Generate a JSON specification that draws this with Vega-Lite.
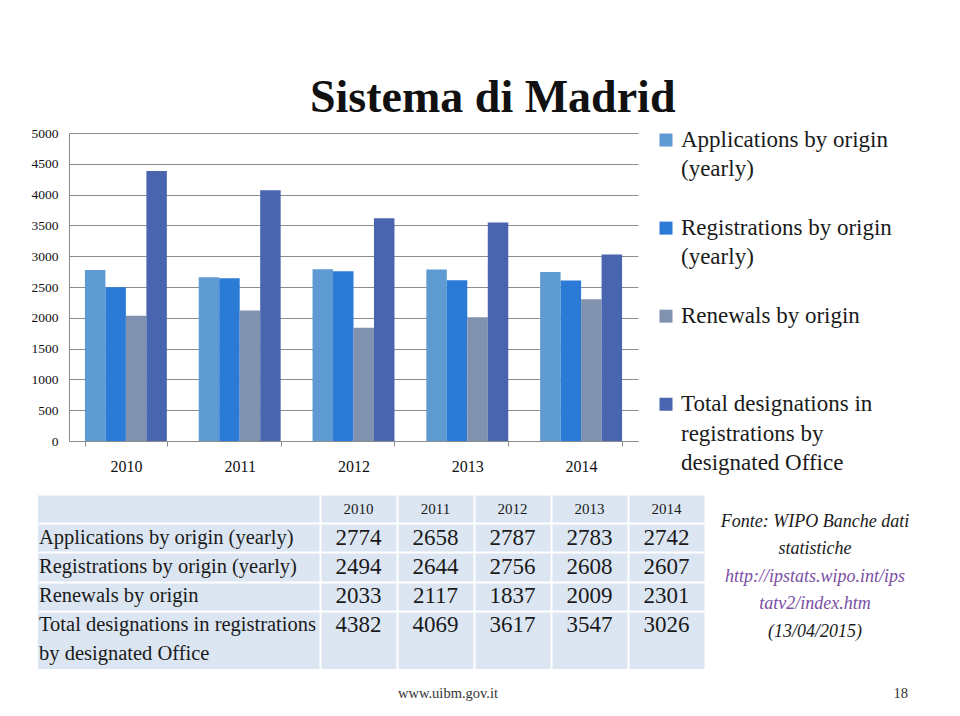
{
  "$schema": "https://vega.github.io/schema/vega-lite/v6.json",
  "background": "white",
  "padding": {"left": 31, "top": 75, "right": 0, "bottom": 0},
  "title": {"text": "Sistema di Madrid", "anchor": "start", "dx": 279, "offset": 4, "fontSize": 46, "font": "Liberation Serif", "fontWeight": "bold", "color": "#111111"},
  "config": {
    "view": {"stroke": null},
    "font": "Liberation Serif",
    "axis": {"labelFont": "Liberation Serif", "titleFont": "Liberation Serif"},
    "text": {"font": "Liberation Serif"}
  },
  "datasets": {
    "bars": [
      {"year": "2010", "series": "Applications by origin (yearly)", "value": 2774},
      {"year": "2010", "series": "Registrations by origin (yearly)", "value": 2494},
      {"year": "2010", "series": "Renewals by origin", "value": 2033},
      {"year": "2010", "series": "Total designations in registrations by designated Office", "value": 4382},
      {"year": "2011", "series": "Applications by origin (yearly)", "value": 2658},
      {"year": "2011", "series": "Registrations by origin (yearly)", "value": 2644},
      {"year": "2011", "series": "Renewals by origin", "value": 2117},
      {"year": "2011", "series": "Total designations in registrations by designated Office", "value": 4069},
      {"year": "2012", "series": "Applications by origin (yearly)", "value": 2787},
      {"year": "2012", "series": "Registrations by origin (yearly)", "value": 2756},
      {"year": "2012", "series": "Renewals by origin", "value": 1837},
      {"year": "2012", "series": "Total designations in registrations by designated Office", "value": 3617},
      {"year": "2013", "series": "Applications by origin (yearly)", "value": 2783},
      {"year": "2013", "series": "Registrations by origin (yearly)", "value": 2608},
      {"year": "2013", "series": "Renewals by origin", "value": 2009},
      {"year": "2013", "series": "Total designations in registrations by designated Office", "value": 3547},
      {"year": "2014", "series": "Applications by origin (yearly)", "value": 2742},
      {"year": "2014", "series": "Registrations by origin (yearly)", "value": 2607},
      {"year": "2014", "series": "Renewals by origin", "value": 2301},
      {"year": "2014", "series": "Total designations in registrations by designated Office", "value": 3026}
    ],
    "years": [{"year": "2010"}, {"year": "2011"}, {"year": "2012"}, {"year": "2013"}, {"year": "2014"}],
    "legend": [
      {"series": "Applications by origin (yearly)", "key": "A1", "first": true, "text": "Applications by origin"},
      {"series": "Applications by origin (yearly)", "key": "A2", "first": false, "text": "(yearly)"},
      {"series": "Registrations by origin (yearly)", "key": "R1", "first": true, "text": "Registrations by origin"},
      {"series": "Registrations by origin (yearly)", "key": "R2", "first": false, "text": "(yearly)"},
      {"series": "Renewals by origin", "key": "N1", "first": true, "text": "Renewals by origin"},
      {"series": "Total designations in registrations by designated Office", "key": "T1", "first": true, "text": "Total designations in"},
      {"series": "Total designations in registrations by designated Office", "key": "T2", "first": false, "text": "registrations by"},
      {"series": "Total designations in registrations by designated Office", "key": "T3", "first": false, "text": "designated Office"}
    ],
    "labels": [
      {"col": "label", "row": "Applications by origin (yearly)", "text": "Applications by origin (yearly)"},
      {"col": "label", "row": "Registrations by origin (yearly)", "text": "Registrations by origin (yearly)"},
      {"col": "label", "row": "Renewals by origin", "text": "Renewals by origin"},
      {"col": "label", "row": "Total designations in registrations by designated Office", "text": "Total designations in registrations"},
      {"col": "label", "row": "T2", "text": "by designated Office"}
    ],
    "source": [
      {"line": 1, "kind": "text", "text": "Fonte: WIPO Banche dati"},
      {"line": 2, "kind": "text", "text": "statistiche"},
      {"line": 3, "kind": "link", "text": "http://ipstats.wipo.int/ips"},
      {"line": 4, "kind": "link", "text": "tatv2/index.htm"},
      {"line": 5, "kind": "text", "text": "(13/04/2015)"}
    ]
  },
  "resolve": {"scale": {"color": "independent", "x": "independent", "y": "independent"}},
  "spacing": 19,
  "vconcat": [
    {
      "spacing": 21,
      "resolve": {"scale": {"color": "independent", "x": "independent", "y": "independent"}},
      "hconcat": [
        {
          "width": 600,
          "height": 308,
          "data": {"name": "bars"},
          "mark": {"type": "bar"},
          "encoding": {
            "x": {
              "field": "year", "type": "nominal",
              "scale": {"range": [31, 600], "paddingInner": 0.28, "paddingOuter": 0.14},
              "axis": {"title": null, "labelAngle": 0, "labelFontSize": 16, "labelColor": "#111111", "tickBand": "extent", "tickSize": 5, "tickColor": "#8c8c8c", "domainColor": "#8c8c8c", "labelPadding": 12, "grid": false}
            },
            "xOffset": {
              "field": "series", "type": "nominal",
              "scale": {"domain": ["Applications by origin (yearly)", "Registrations by origin (yearly)", "Renewals by origin", "Total designations in registrations by designated Office"], "paddingInner": 0, "paddingOuter": 0}
            },
            "y": {
              "field": "value", "type": "quantitative",
              "scale": {"domain": [0, 5000]},
              "axis": {"title": null, "offset": -31, "values": [0, 500, 1000, 1500, 2000, 2500, 3000, 3500, 4000, 4500, 5000], "format": "d", "labelFontSize": 13.5, "labelColor": "#111111", "labelPadding": 11, "ticks": false, "domain": true, "domainColor": "#8c8c8c", "gridColor": "#8c8c8c", "gridOpacity": 1, "gridWidth": 1}
            },
            "color": {
              "field": "series", "type": "nominal",
              "scale": {"domain": ["Applications by origin (yearly)", "Registrations by origin (yearly)", "Renewals by origin", "Total designations in registrations by designated Office"], "range": ["#5f9bd3", "#2b7bd6", "#8092ae", "#4a65b0"]},
              "legend": null
            }
          }
        },
        {
          "width": 14,
          "height": 337,
          "data": {"name": "legend"},
          "encoding": {
            "y": {"field": "key", "type": "nominal", "scale": {"type": "point", "domain": ["A1", "A2", "A3", "R1", "R2", "R3", "N1", "N2", "N3", "T1", "T2", "T3"], "padding": 0.24}, "axis": null}
          },
          "layer": [
            {
              "transform": [{"filter": "datum.first"}],
              "mark": {"type": "square", "size": 169, "opacity": 1},
              "encoding": {
                "color": {
                  "field": "series", "type": "nominal",
                  "scale": {"domain": ["Applications by origin (yearly)", "Registrations by origin (yearly)", "Renewals by origin", "Total designations in registrations by designated Office"], "range": ["#5f9bd3", "#2b7bd6", "#8092ae", "#4a65b0"]},
                  "legend": null
                }
              }
            },
            {
              "mark": {"type": "text", "align": "left", "baseline": "middle", "dx": 15, "fontSize": 23, "color": "#1a1a1a"},
              "encoding": {
                "text": {"field": "text"}
              }
            }
          ]
        }
      ]
    },
    {
      "spacing": 0,
      "resolve": {"scale": {"color": "independent", "x": "independent", "y": "independent"}},
      "hconcat": [
        {
          "width": 282,
          "height": 175,
          "view": {"fill": "#dce6f2", "stroke": null},
          "data": {"name": "labels"},
          "mark": {"type": "text", "align": "left", "baseline": "middle", "dx": 1, "fontSize": 20.5, "color": "#1a1a1a"},
          "encoding": {
            "x": {"field": "col", "type": "nominal", "scale": {"type": "point", "domain": ["label"], "padding": 0, "align": 0}, "axis": null},
            "y": {
              "field": "row", "type": "nominal",
              "scale": {"domain": ["hdr", "Applications by origin (yearly)", "Registrations by origin (yearly)", "Renewals by origin", "Total designations in registrations by designated Office", "T2"], "paddingInner": 0, "paddingOuter": 0},
              "axis": {"title": null, "minExtent": 0, "maxExtent": 0, "labels": false, "ticks": false, "domain": false, "grid": true, "gridColor": "white", "gridWidth": 2, "gridOpacity": 1, "tickBand": "extent", "values": ["hdr", "Applications by origin (yearly)", "Registrations by origin (yearly)", "Renewals by origin"]}
            },
            "text": {"field": "text"}
          }
        },
        {
          "width": 385,
          "height": 175,
          "view": {"fill": "#dce6f2", "stroke": null},
          "title": {"text": "www.uibm.gov.it", "orient": "bottom", "anchor": "start", "dx": 78, "offset": 18, "fontSize": 14.5, "fontWeight": "normal", "font": "Liberation Serif", "color": "#333333"},
          "layer": [
            {
              "data": {"name": "bars"},
              "mark": {"type": "text", "baseline": "middle", "fontSize": 23, "color": "#1a1a1a"},
              "encoding": {
                "x": {
                  "field": "year", "type": "nominal",
                  "scale": {"domain": ["2010", "2011", "2012", "2013", "2014"], "paddingInner": 0, "paddingOuter": 0},
                  "axis": {"title": null, "labels": false, "ticks": false, "domain": false, "minExtent": 0, "maxExtent": 0, "grid": true, "gridColor": "white", "gridWidth": 2, "gridOpacity": 1, "tickBand": "extent"}
                },
                "y": {
                  "field": "series", "type": "nominal",
                  "scale": {"domain": ["hdr", "Applications by origin (yearly)", "Registrations by origin (yearly)", "Renewals by origin", "Total designations in registrations by designated Office", "T2"], "paddingInner": 0, "paddingOuter": 0},
                  "axis": {"title": null, "labels": false, "ticks": false, "domain": false, "minExtent": 0, "maxExtent": 0, "grid": true, "gridColor": "white", "gridWidth": 2, "gridOpacity": 1, "tickBand": "extent", "values": ["hdr", "Applications by origin (yearly)", "Registrations by origin (yearly)", "Renewals by origin"]}
                },
                "text": {"field": "value", "type": "quantitative", "format": "d"}
              }
            },
            {
              "data": {"name": "years"},
              "mark": {"type": "text", "baseline": "middle", "fontSize": 15, "color": "#1a1a1a"},
              "encoding": {
                "x": {"field": "year", "type": "nominal"},
                "y": {"datum": "hdr", "type": "nominal"},
                "text": {"field": "year"}
              }
            }
          ]
        },
        {
          "width": 220,
          "height": 165,
          "data": {"name": "source"},
          "title": {"text": "18", "orient": "bottom", "anchor": "end", "dx": -17, "offset": 28, "fontSize": 14.5, "fontWeight": "normal", "font": "Liberation Serif", "color": "#333333"},
          "encoding": {
            "y": {"field": "line", "type": "ordinal", "scale": {"type": "point", "domain": [1, 2, 3, 4, 5], "padding": 1.7}, "axis": null},
            "text": {"field": "text"}
          },
          "layer": [
            {
              "transform": [{"filter": "datum.kind == 'text'"}],
              "mark": {"type": "text", "baseline": "middle", "fontSize": 18, "fontStyle": "italic", "color": "#1a1a1a"}
            },
            {
              "transform": [{"filter": "datum.kind == 'link'"}],
              "mark": {"type": "text", "baseline": "middle", "fontSize": 18, "fontStyle": "italic", "color": "#7b4ea3"}
            }
          ]
        }
      ]
    }
  ]
}
